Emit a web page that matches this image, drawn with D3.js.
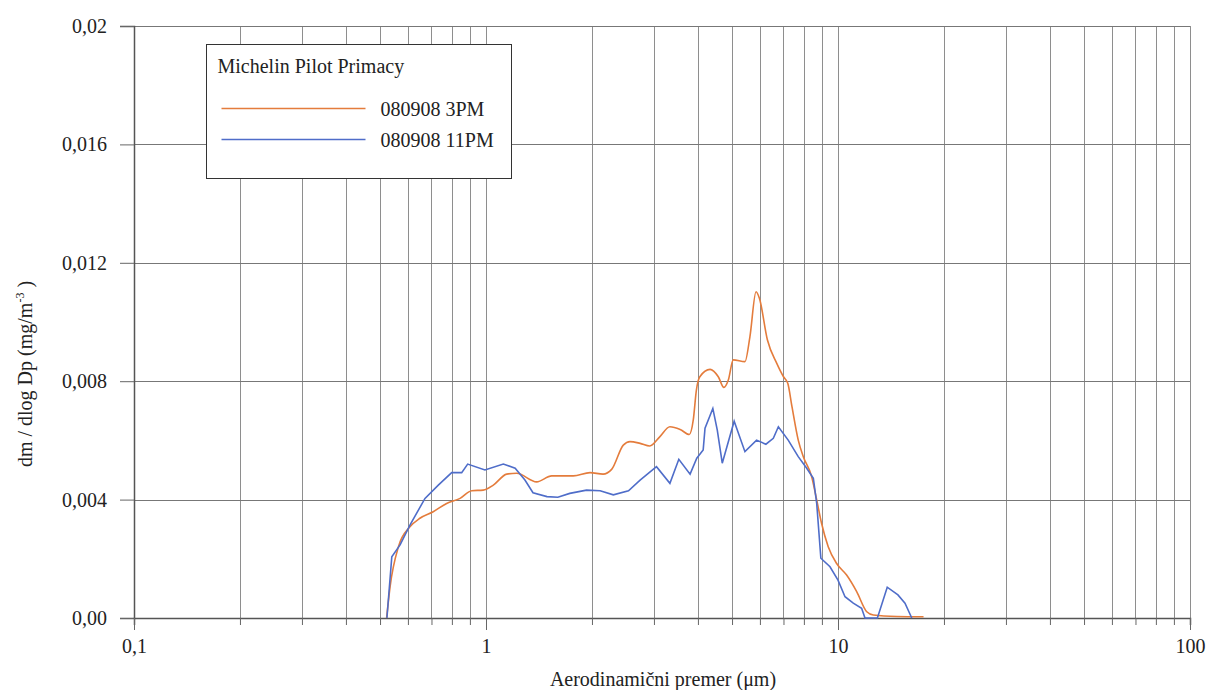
<!DOCTYPE html>
<html><head><meta charset="utf-8">
<title>Michelin Pilot Primacy</title>
<script src="https://cdn.jsdelivr.net/npm/d3@7"></script>
<style>
  html,body{margin:0;background:#fff}
  svg{display:block;font-family:"Liberation Serif","DejaVu Serif",serif}
  .grid line{stroke:#8e8e8e;stroke-width:1;shape-rendering:crispEdges}
  .tick text{fill:#222;font-family:"Liberation Serif",serif}
</style>
</head><body>
<svg width="1210" height="690"></svg>
<script>
// series
const pm3X = [0.522,0.534,0.564,0.608,0.649,0.708,0.773,0.844,0.911,0.982,1.049,1.145,1.222,1.393,1.537,1.77,1.975,2.15,2.275,2.455,2.565,2.74,2.92,3.12,3.33,3.56,3.78,3.88,3.96,4.05,4.33,4.57,4.74,4.88,5.04,5.44,5.62,5.85,5.98,6.3,6.7,7.0,7.2,7.4,7.71,7.97,8.42,8.7,8.98,9.38,9.9,10.58,11.3,12.07,12.6,14.7,17.5];
const pm3Y = [0,0.00106,0.00241,0.00308,0.00337,0.00359,0.00387,0.00404,0.0043,0.00432,0.00449,0.00486,0.00489,0.0046,0.0048,0.0048,0.00491,0.00486,0.00502,0.00584,0.00596,0.0059,0.00581,0.00613,0.00646,0.00637,0.0062,0.00669,0.0077,0.00815,0.0084,0.00815,0.00779,0.00804,0.00872,0.00866,0.0095,0.01102,0.0108,0.0094,0.0086,0.00815,0.00793,0.00714,0.00601,0.00545,0.00477,0.00399,0.0032,0.00241,0.00185,0.00145,0.00089,0.00021,0.0001,0.00005,0.00004];

const pm11X = [0.523,0.54,0.57,0.608,0.671,0.732,0.799,0.853,0.887,0.993,1.12,1.21,1.29,1.36,1.49,1.6,1.73,1.93,2.11,2.3,2.54,2.74,3.05,3.33,3.53,3.8,3.97,4.14,4.19,4.41,4.54,4.69,5.07,5.44,5.87,6.24,6.55,6.77,7.22,7.71,8.15,8.51,8.7,8.94,9.49,10.0,10.47,11.05,11.67,11.93,12.94,13.8,14.8,15.5,16.2];
const pm11Y = [0,0.00207,0.00247,0.00314,0.00404,0.00449,0.00491,0.00491,0.0052,0.005,0.0052,0.00506,0.00466,0.00423,0.0041,0.00408,0.00421,0.00432,0.0043,0.00416,0.0043,0.00466,0.00511,0.00455,0.00536,0.00486,0.0054,0.00568,0.00641,0.00708,0.00635,0.00523,0.00665,0.00562,0.00601,0.00587,0.00607,0.00646,0.00601,0.00545,0.00506,0.00472,0.00387,0.00202,0.00173,0.00128,0.00072,0.0005,0.00033,0,0,0.00104,0.00078,0.0005,0];

const seriesNames = ['080908 3PM','080908 11PM'];
const yTicks = [0,0.004,0.008,0.012,0.016,0.02];
const yTickLabels = ['0,00','0,004','0,008','0,012','0,016','0,02'];
const xMajor = [0.1,1,10,100];
const xMajorLabels = ['0,1','1','10','100'];

const orange = '#e47c3c', blue = '#4f6dc9';
const FS = 20;

const svg = d3.select('svg');
const L = 134, R = 1190, T = 26, B = 618;

const x = d3.scaleLog().domain([0.1,100]).range([L,R]);
const y = d3.scaleLinear().domain([0,0.02]).range([B,T]);

// minor positions 1..9 per decade
const xMinor = [];
[0.1,1,10].forEach(d=>{for(let k=1;k<10;k++)xMinor.push(d*k)});
xMinor.push(100);

/* grid */
const grid = svg.append('g').attr('class','grid');
grid.selectAll('.v').data(xMinor).join('line').attr('class','v')
  .attr('x1',d=>Math.round(x(d))+0.5).attr('x2',d=>Math.round(x(d))+0.5)
  .attr('y1',T).attr('y2',B);
grid.selectAll('.h').data(yTicks).join('line').attr('class','h')
  .attr('x1',L).attr('x2',R)
  .attr('y1',d=>Math.round(y(d))+0.5).attr('y2',d=>Math.round(y(d))+0.5)
  .style('stroke','#777');

/* axes */
const yAxis = svg.append('g').attr('transform',`translate(${L},0)`)
  .call(d3.axisLeft(y).tickValues(yTicks).tickSize(14).tickPadding(13)
        .tickFormat((d,i)=>yTickLabels[i]));
const xAxis = svg.append('g').attr('transform',`translate(0,${B})`)
  .call(d3.axisBottom(x).tickValues(xMinor).tickSize(7).tickFormat(''));
const xAxisMaj = svg.append('g').attr('transform',`translate(0,${B})`)
  .call(d3.axisBottom(x).tickValues(xMajor).tickSize(12).tickPadding(9)
        .tickFormat((d,i)=>xMajorLabels[i]));
[yAxis,xAxis,xAxisMaj].forEach(a=>{
  a.attr('font-family',null).attr('font-size',FS);
  a.select('.domain').attr('stroke','#555').attr('stroke-width',1.5);
  a.selectAll('.tick line').attr('stroke','#666');
});
xAxisMaj.select('.domain').remove();

/* lines */
const mk = (xs,ys)=>xs.map((v,i)=>[v,ys[i]]);
svg.append('path').datum(mk(pm3X,pm3Y))
  .attr('fill','none').attr('stroke',orange).attr('stroke-width',1.6)
  .attr('d',d3.line().x(d=>x(d[0])).y(d=>y(d[1])).curve(d3.curveMonotoneX));
svg.append('path').datum(mk(pm11X,pm11Y))
  .attr('fill','none').attr('stroke',blue).attr('stroke-width',1.6)
  .attr('d',d3.line().x(d=>x(d[0])).y(d=>y(d[1])));

/* axis titles */
svg.append('text').attr('x',663).attr('y',686).attr('text-anchor','middle')
  .attr('font-size',FS).attr('fill','#222').text('Aerodinamični premer (μm)');
const yl = svg.append('text').attr('transform','translate(32,374) rotate(-90)')
  .attr('text-anchor','middle').attr('font-size',FS).attr('fill','#222');
yl.append('tspan').text('dm / dlog Dp (mg/m');
yl.append('tspan').attr('dy',-8).attr('font-size',12).text('-3');
yl.append('tspan').attr('dy',8).text(' )');

/* legend */
const lg = svg.append('g').attr('transform','translate(206.5,44.5)');
lg.append('rect').attr('width',305).attr('height',134)
  .attr('fill','#fff').attr('stroke','#333').attr('stroke-width',1);
lg.append('text').attr('x',11).attr('y',28).attr('font-size',FS).attr('fill','#222')
  .text('Michelin Pilot Primacy');
[orange,blue].forEach((c,i)=>{
  const yy = 64 + i*31;
  lg.append('line').attr('x1',15).attr('x2',159).attr('y1',yy).attr('y2',yy)
    .attr('stroke',c).attr('stroke-width',1.6);
  lg.append('text').attr('x',174).attr('y',yy+7).attr('font-size',FS).attr('fill','#222')
    .text(seriesNames[i]);
});
</script>
</body></html>
